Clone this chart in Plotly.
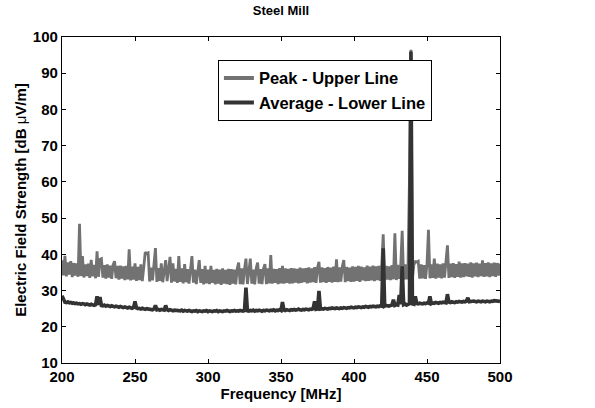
import plotly.graph_objects as go

# Spectrum sweep, 1 MHz steps from 200 to 500 MHz
freq_mhz = list(range(200, 501))

# Peak detector readings [dB uV/m]
peak_level = [
    38.4, 34.2, 39.6, 33.9, 37.8, 34.4, 38.1, 33.7, 37.6, 34.1,
    37.5, 33.8, 48.4, 34.0, 39.5, 33.6, 37.2, 34.0, 37.4, 33.5,
    38.5, 33.9, 37.1, 33.4, 40.8, 33.8, 38.6, 38.8, 33.6, 37.0,
    33.3, 37.2, 33.6, 36.9, 33.2, 37.1, 38.1, 33.4, 36.8, 33.0,
    36.9, 33.3, 36.7, 32.9, 36.8, 33.1, 41.4, 32.8, 36.6, 33.0,
    37.5, 32.7, 36.5, 32.9, 37.2, 32.6, 36.4, 40.6, 40.2, 40.4,
    32.5, 36.3, 32.8, 36.5, 41.7, 32.4, 36.2, 32.7, 37.5, 32.3,
    36.4, 38.4, 32.6, 36.1, 39.3, 32.2, 37.5, 32.5, 36.0, 32.1,
    39.5, 32.4, 36.1, 32.0, 37.3, 32.3, 35.9, 31.9, 36.2, 39.5,
    32.2, 35.8, 31.8, 36.1, 38.4, 32.1, 35.9, 31.7, 36.8, 32.0,
    35.8, 31.8, 36.8, 32.1, 35.7, 31.7, 36.0, 31.9, 35.8, 31.6,
    36.1, 31.9, 35.7, 31.8, 36.0, 31.6, 35.9, 31.9, 35.8, 31.7,
    36.0, 37.7, 31.8, 36.1, 31.7, 35.9, 38.8, 31.8, 36.0, 38.8,
    31.9, 35.8, 31.7, 36.1, 37.7, 31.9, 35.9, 31.8, 36.0, 37.3,
    31.8, 36.1, 32.0, 39.8, 31.9, 36.0, 32.1, 35.9, 31.8, 36.2,
    32.0, 36.8, 31.9, 36.1, 32.1, 36.0, 31.9, 36.2, 32.0, 36.1,
    32.2, 36.0, 32.0, 36.3, 32.1, 36.1, 32.3, 36.2, 32.0, 36.4,
    32.2, 36.1, 32.3, 36.5, 32.1, 36.3, 37.9, 32.2, 36.4, 32.3,
    36.2, 32.1, 36.5, 32.4, 36.3, 32.2, 36.6, 32.4, 38.6, 32.3,
    36.4, 32.5, 36.6, 38.4, 32.3, 36.5, 32.6, 36.3, 32.4, 36.7,
    32.5, 36.5, 32.7, 36.8, 32.4, 36.6, 32.8, 36.4, 32.6, 36.9,
    32.7, 36.6, 32.8, 36.9, 32.6, 36.7, 32.9, 36.8, 32.7, 37.0,
    45.5, 32.8, 36.8, 33.0, 36.7, 32.9, 37.0, 33.1, 45.8, 32.9,
    37.1, 33.2, 36.9, 46.5, 33.0, 37.2, 33.1, 37.0, 61.0, 96.5,
    33.2, 37.1, 38.0, 37.9, 38.1, 33.3, 37.2, 33.4, 37.0, 33.2,
    37.3, 46.8, 33.4, 37.2, 33.5, 38.8, 33.3, 37.4, 33.6, 37.2,
    33.4, 37.5, 33.6, 37.3, 42.5, 33.5, 37.4, 33.7, 37.6, 33.5,
    37.3, 33.8, 38.0, 33.6, 37.5, 33.7, 37.6, 33.9, 37.4, 33.8,
    37.8, 33.6, 37.5, 33.9, 37.7, 33.7, 37.4, 34.0, 38.3, 33.8,
    37.6, 33.9, 37.8, 33.7, 37.5, 34.0, 37.7, 33.8, 37.6, 34.1,
    37.5,
]

# Average detector readings [dB uV/m]
average_level = [
    28.6, 27.8, 26.8, 26.7, 26.9, 26.6, 26.7, 26.5, 26.6, 26.4,
    26.5, 26.3, 26.4, 26.2, 26.4, 26.3, 26.1, 26.3, 26.2, 26.0,
    26.2, 26.1, 25.9, 26.1, 28.4, 26.0, 28.2, 25.9, 25.8, 26.0,
    25.7, 25.9, 25.8, 25.6, 25.8, 25.7, 25.5, 25.7, 25.6, 25.4,
    25.6, 25.5, 25.3, 25.5, 25.4, 25.2, 25.4, 25.3, 25.1, 25.3,
    27.0, 25.2, 25.0, 25.1, 24.9, 25.1, 25.0, 24.8, 25.0, 24.9,
    24.8, 24.9, 24.7, 24.9, 25.9, 24.7, 24.8, 24.6, 24.8, 24.7,
    24.6, 25.9, 24.7, 24.5, 24.7, 24.6, 24.4, 24.6, 24.5, 24.4,
    24.5, 24.4, 24.6, 24.3, 24.5, 24.4, 24.3, 24.5, 24.4, 24.2,
    24.4, 24.3, 24.5, 24.2, 24.4, 24.3, 24.2, 24.4, 24.3, 24.5,
    24.2, 24.4, 24.3, 24.2, 24.4, 24.3, 24.5, 24.2, 24.4, 24.3,
    24.2, 24.4, 24.3, 24.5, 24.3, 24.2, 24.4, 24.3, 24.5, 24.3,
    24.4, 24.3, 24.5, 24.4, 24.3, 24.5, 30.8, 24.4, 24.3, 24.5,
    24.4, 24.6, 24.3, 24.5, 24.4, 24.6, 24.5, 24.3, 24.5, 24.4,
    24.6, 24.5, 24.4, 24.6, 24.5, 24.7, 24.4, 24.6, 24.5, 24.7,
    24.5, 26.8, 24.6, 24.5, 24.7, 24.6, 24.5, 24.7, 24.6, 24.8,
    24.6, 24.7, 24.9, 24.7, 24.6, 24.8, 24.7, 24.9, 24.8, 24.7,
    24.9, 24.8, 25.0, 27.0, 24.8, 24.9, 29.9, 24.9, 25.0, 24.9,
    25.1, 25.0, 24.9, 25.1, 25.0, 25.2, 25.1, 25.0, 25.2, 25.1,
    25.0, 25.2, 25.1, 25.3, 25.2, 25.1, 25.3, 25.2, 25.4, 25.3,
    25.2, 25.4, 25.3, 25.5, 25.4, 25.3, 25.5, 25.4, 25.6, 25.5,
    25.4, 25.6, 25.5, 25.7, 25.6, 25.5, 25.7, 25.6, 25.8, 25.7,
    41.7, 25.7, 25.9, 25.8, 25.7, 25.9, 26.0, 27.5, 25.9, 26.1,
    26.0, 28.8, 26.2, 36.7, 26.1, 26.3, 26.0, 26.2, 26.4, 96.0,
    26.3, 26.2, 28.4, 26.4, 26.3, 26.5, 26.4, 26.3, 26.5, 26.4,
    26.6, 26.5, 28.4, 26.4, 26.6, 26.5, 26.7, 26.6, 26.5, 26.7,
    26.6, 26.8, 26.7, 26.6, 29.0, 26.8, 26.7, 26.9, 26.8, 26.7,
    26.9, 26.8, 27.0, 26.9, 26.8, 27.0, 26.9, 27.1, 28.0, 26.9,
    27.0, 26.9, 27.1, 27.0, 26.9, 27.1, 27.0, 26.9, 27.1, 27.0,
    26.9, 27.1, 27.0, 26.9, 27.1, 27.0, 27.2, 27.1, 27.0, 27.1,
    27.0,
]

x_ticks = [200, 250, 300, 350, 400, 450, 500]
y_ticks = [10, 20, 30, 40, 50, 60, 70, 80, 90, 100]

PEAK_COLOR = "#727272"
AVG_COLOR = "#333333"
FONT = "Liberation Sans, Arial, sans-serif"

fig = go.Figure()

fig.add_trace(go.Scatter(
    x=freq_mhz, y=peak_level, mode="lines",
    line=dict(color=PEAK_COLOR, width=2.8),
    showlegend=False, hoverinfo="skip",
))
fig.add_trace(go.Scatter(
    x=freq_mhz, y=average_level, mode="lines",
    line=dict(color=AVG_COLOR, width=3.6),
    showlegend=False, hoverinfo="skip",
))

# legend entries with heavier line samples
fig.add_trace(go.Scatter(
    x=[None], y=[None], mode="lines", name="Peak - Upper Line",
    line=dict(color=PEAK_COLOR, width=4),
))
fig.add_trace(go.Scatter(
    x=[None], y=[None], mode="lines", name="Average - Lower Line",
    line=dict(color=AVG_COLOR, width=4),
))

axis_common = dict(
    showline=True, linecolor="black", linewidth=1.2, mirror="ticks",
    ticks="inside", ticklen=4, tickcolor="black", showgrid=False,
    zeroline=False,
    tickfont=dict(family=FONT, size=15, color="black", weight="bold"),
)

title_font = dict(family=FONT, size=15, color="black", weight="bold")

fig.update_layout(
    width=595, height=408,
    margin=dict(l=62, r=95, t=37, b=40),
    paper_bgcolor="white", plot_bgcolor="white",
    title=dict(
        text="Steel Mill", x=0.5, xref="paper", xanchor="center",
        y=0.975, yref="container", yanchor="middle",
        font=dict(family=FONT, size=13, color="black", weight="bold"),
    ),
    xaxis=dict(
        range=[200, 500], tickvals=x_ticks, **axis_common,
        title=dict(text="Frequency [MHz]", standoff=0, font=title_font),
    ),
    yaxis=dict(
        range=[10, 100], tickvals=y_ticks, **axis_common,
        title=dict(text="Electric Field Strength [dB <span style='font-weight:normal'>μ</span>V/m]",
                   standoff=2, font=title_font),
    ),
    legend=dict(
        x=0.356, y=0.93, xanchor="left", yanchor="top",
        bgcolor="white", bordercolor="black", borderwidth=1,
        font=dict(family=FONT, size=16.5, color="black", weight="bold"),
        itemwidth=30, tracegroupgap=0,
    ),
    showlegend=True,
)

fig.write_html("out.html")
